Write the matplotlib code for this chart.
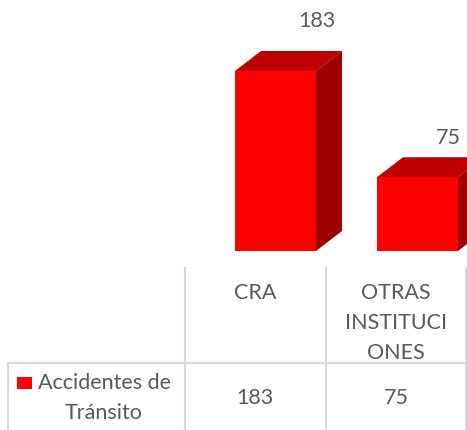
import matplotlib.pyplot as plt
from matplotlib.patches import Rectangle, Polygon

# datos
categorias = ["CRA", "OTRAS\nINSTITUCI\nONES"]
valores = [183, 75]
serie = "Accidentes de\nTránsito"

plt.rcParams['font.family'] = ['Lato', 'DejaVu Sans']
gris = '#595959'
linea = '#D9D9D9'
fs = 15.5

fig = plt.figure(figsize=(4.67, 4.30), dpi=100)
ax = fig.add_axes([0, 0, 1, 1])
ax.set_xlim(0, 467)
ax.set_ylim(430, 0)
ax.axis('off')

# barras 3D (coordenadas en pixeles)
base = 251
k = 180 / 183.0
ancho = 81
dx, dy = 26, 20
izq = [235, 377]
etiq_pos = [(317, 21), (448, 138)]
for x0, v, (lx, ly) in zip(izq, valores, etiq_pos):
    h = v * k
    top = base - h
    ax.add_patch(Rectangle((x0, top), ancho, h, fc='#FF0000', ec='none'))
    ax.add_patch(Polygon([(x0, top), (x0 + dx, top - dy), (x0 + ancho + dx, top - dy),
                          (x0 + ancho, top)], fc='#BF0000', ec='none'))
    ax.add_patch(Polygon([(x0 + ancho, top), (x0 + ancho + dx, top - dy),
                          (x0 + ancho + dx, base - dy), (x0 + ancho, base)], fc='#9E0000', ec='none'))
    ax.text(lx, ly, str(v), ha='center', va='center', fontsize=fs, color=gris)

# tabla de datos
for x in [185, 326, 466]:
    ax.plot([x, x], [268, 430], color=linea, lw=1.5)
ax.plot([8, 8], [363, 430], color=linea, lw=1.5)
ax.plot([8, 466], [363, 363], color=linea, lw=1.5)

centros = [255, 396]
for cx, cat, v in zip(centros, categorias, valores):
    ax.text(cx, 283, cat, ha='center', va='top', fontsize=fs, color=gris, linespacing=1.62)
    ax.text(cx, 398, str(v), ha='center', va='center', fontsize=fs, color=gris)

ax.add_patch(Rectangle((17, 377), 15, 12, fc='#FF0000', ec='none'))
ax.text(104, 398, serie, ha='center', va='center', fontsize=fs, color=gris, linespacing=1.6)

fig.savefig("out.png", dpi=100)
